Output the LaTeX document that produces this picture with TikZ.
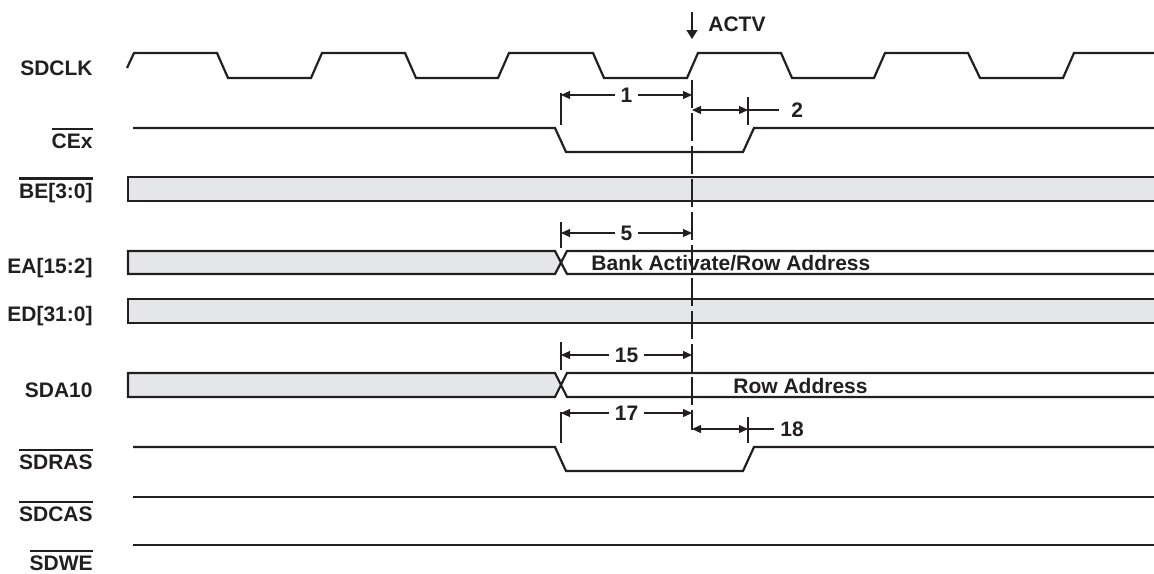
\documentclass[tikz,border=0pt]{standalone}
\usepackage{fontspec}
\setmainfont{Liberation Sans}
\usetikzlibrary{arrows.meta, positioning}

\definecolor{ink}{RGB}{35,31,32}
\definecolor{busgray}{RGB}{229,230,232}
\newcommand{\ovl}[1]{\vbox{\hrule height 1.3pt \kern 1.6pt \hbox{#1}}}

\begin{document}
\begin{tikzpicture}[x=0.5pt, y=-0.5pt,
    every node/.style={font=\fontsize{10.5}{12}\selectfont\bfseries, text=ink},
    sig/.style={draw=ink, line width=1.1pt, line join=miter},
    bus/.style={sig, fill=busgray},
    lbl/.style={anchor=base east, inner sep=0pt},
    txt/.style={anchor=base west, inner sep=0pt},
    ext/.style={draw=ink, line width=0.55pt},
    dim/.style={ext, {Triangle[length=4.5pt,width=4pt]}-{Triangle[length=4.5pt,width=4pt]}},
    num/.style={fill=white, inner xsep=3pt, inner ysep=1pt}]
    \useasboundingbox (0,0) rectangle (1154,573);

    \node[lbl] (sdclk) at (93,75) {SDCLK};
    \node[lbl] (cex) at (93,148) {\ovl{CEx}};
    \node[lbl] (be) at (93,198) {\ovl{BE[3:0]}};
    \node[lbl] (ea) at (93,273) {EA[15:2]};
    \node[lbl] (ed) at (93,321) {ED[31:0]};
    \node[lbl] (sda10) at (93,397) {SDA10};
    \node[lbl] (sdras) at (93,469) {\ovl{SDRAS}};
    \node[lbl] (sdcas) at (93,521) {\ovl{SDCAS}};
    \node[lbl] (sdwe) at (93,570) {\ovl{SDWE}};

    \draw[sig] (127,68) -- (134,53) -- (217,53) -- (228,78) -- (311,78) -- (322,53)
        -- (405,53) -- (416,78) -- (498,78) -- (509,53) -- (593,53) -- (604,78)
        -- (687,78) -- (698,53) -- (781,53) -- (792,78) -- (874,78) -- (885,53)
        -- (968,53) -- (980,78) -- (1063,78) -- (1074,53) -- (1154,53);
    \draw[sig] (133,128) -- (555,128) -- (566,152) -- (743,152) -- (754,128) -- (1154,128);
    \draw[sig] (133,447) -- (555,447) -- (566,471) -- (743,471) -- (754,447) -- (1154,447);
    \draw[sig] (133,497) -- (1154,497);
    \draw[sig] (133,545) -- (1154,545);

    \fill[busgray] (128,177) rectangle (1154,201);
    \draw[sig] (1154,177) -- (128,177) -- (128,201) -- (1154,201);
    \fill[busgray] (128,299) rectangle (1154,323);
    \draw[sig] (1154,299) -- (128,299) -- (128,323) -- (1154,323);

    \draw[bus] (128,251) -- (555,251) -- (561,262.5) -- (555,274) -- (128,274) -- cycle;
    \draw[sig] (1154,251) -- (567,251) -- (561,262.5) -- (567,274) -- (1154,274);
    \node[txt] (eatxt) at (591,270) {Bank Activate/Row Address};
    \draw[bus] (128,373) -- (555,373) -- (561,385) -- (555,397) -- (128,397) -- cycle;
    \draw[sig] (1154,373) -- (567,373) -- (561,385) -- (567,397) -- (1154,397);
    \node[txt] (satxt) at (733,393) {Row Address};

    \coordinate (actvtop) at (692,12);
    \coordinate (actvbot) at (692,39);
    \draw[ext, line width=0.7pt, -{Triangle[length=4.5pt,width=5.5pt]}] (actvtop) -- (actvbot);
    \node[txt] (actv) at (708,32) {ACTV};
    \draw[ext, line width=0.65pt, dash pattern=on 14pt off 2.5pt] (692,80) -- (692,430);

    \coordinate (d1l) at (561,95);
    \coordinate (d1r) at (692,95);
    \draw[ext] (561,93) -- (561,125);
    \draw[dim] (d1l) -- node[num] (n1) {1} (d1r);

    \coordinate (d2l) at (692,110);
    \coordinate (d2r) at (748,110);
    \draw[ext] (748,97) -- (748,125);
    \draw[dim] (d2l) -- (d2r);
    \node[num, anchor=west, inner xsep=6pt] (n2) at (779,110) {2};
    \draw[ext] (d2r) -- (n2.west);

    \coordinate (d5l) at (561,233);
    \coordinate (d5r) at (692,233);
    \draw[ext] (561,222) -- (561,248);
    \draw[dim] (d5l) -- node[num] (n5) {5} (d5r);

    \coordinate (d15l) at (561,355);
    \coordinate (d15r) at (692,355);
    \draw[ext] (561,342) -- (561,370);
    \draw[dim] (d15l) -- node[num] (n15) {15} (d15r);

    \coordinate (d17l) at (561,413);
    \coordinate (d17r) at (692,413);
    \draw[ext] (561,412) -- (561,443);
    \draw[dim] (d17l) -- node[num] (n17) {17} (d17r);

    \coordinate (d18l) at (692,429);
    \coordinate (d18r) at (748,429);
    \draw[ext] (748,417) -- (748,443);
    \draw[dim] (d18l) -- (d18r);
    \node[num, anchor=west, inner xsep=3pt] (n18) at (774,429) {18};
    \draw[ext] (d18r) -- (n18.west);
\end{tikzpicture}
\end{document}
